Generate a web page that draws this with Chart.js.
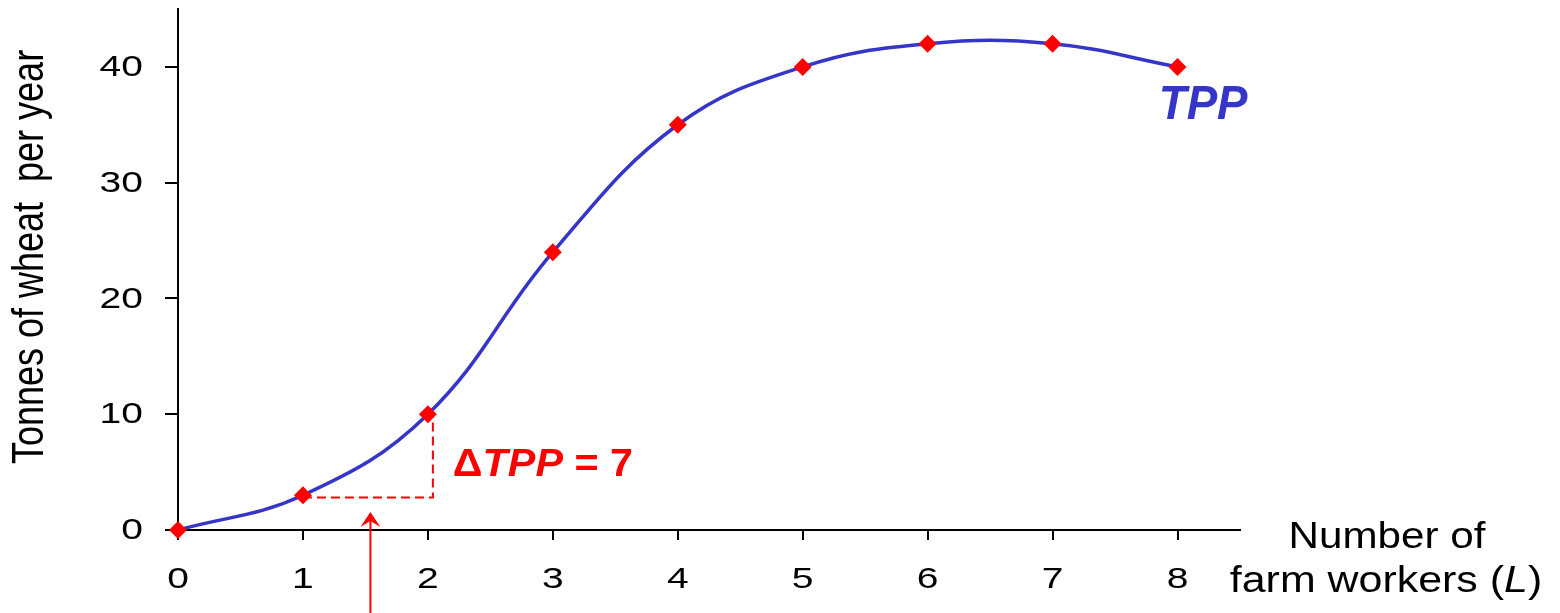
<!DOCTYPE html>
<html lang="en">
<head>
  <meta charset="UTF-8" />
  <title>Total physical product</title>
  <script src="https://cdn.jsdelivr.net/npm/chart.js"></script>
  <style>
    html, body { margin: 0; padding: 0; background: #fff; }
    #wrap { width: 1560px; height: 613px; }
  </style>
</head>
<body>
<div id="wrap"><canvas id="tpp"></canvas></div>

<script>
// data
const workers = [0, 1, 2, 3, 4, 5, 6, 7, 8];
const tonnes = [0, 3, 10, 24, 35, 40, 42, 42, 40];
const yTicks = [0, 10, 20, 30, 40];

// annotation values (in data units)
const deltaBase = 2.8;      // dashed horizontal level
const deltaX = [1, 2.04];   // dashed horizontal run
const deltaTop = 10;
const arrowX = 1.54;
const arrowTipY = 1.55;

const blue = '#3535c8';
const red = '#ff0000';
const font = '"Liberation Sans", Arial, sans-serif';

// text is a bit wider in the original, so draw it with a horizontal stretch
function drawRuns(ctx, runs, cx, cy, size, sx, align) {
  ctx.save();
  ctx.translate(cx, cy);
  ctx.scale(sx, 1);
  ctx.textBaseline = 'middle';
  ctx.textAlign = 'left';
  let total = 0;
  runs.forEach(r => { ctx.font = r[1] + ' ' + size + 'px ' + font; r.w = ctx.measureText(r[0]).width; total += r.w; });
  let x = align === 'center' ? -total / 2 : align === 'right' ? -total : 0;
  runs.forEach(r => {
    ctx.font = r[1] + ' ' + size + 'px ' + font;
    ctx.fillText(r[0], x, 0);
    x += r.w;
  });
  ctx.restore();
}

const notes = {
  id: 'notes',
  afterDraw(chart) {
    const { ctx, scales: { x, y } } = chart;
    ctx.save();

    // tick labels
    ctx.fillStyle = '#000';
    x.ticks.forEach(t => drawRuns(ctx, [[String(t.value), '']], x.getPixelForValue(t.value), 580, 30, 1.3, 'center'));
    y.ticks.forEach(t => drawRuns(ctx, [[String(t.value), '']], 143, y.getPixelForValue(t.value) + 1, 30, 1.3, 'right'));

    // dashed delta lines
    ctx.strokeStyle = red;
    ctx.lineWidth = 2;
    ctx.setLineDash([9, 5]);
    ctx.beginPath();
    ctx.moveTo(x.getPixelForValue(deltaX[0]), y.getPixelForValue(deltaBase));
    ctx.lineTo(x.getPixelForValue(deltaX[1]), y.getPixelForValue(deltaBase));
    ctx.lineTo(x.getPixelForValue(deltaX[1]), y.getPixelForValue(deltaTop));
    ctx.stroke();
    ctx.setLineDash([]);

    // arrow pointing up at the dashed run
    const ax = x.getPixelForValue(arrowX);
    const tip = y.getPixelForValue(arrowTipY);
    ctx.beginPath();
    ctx.moveTo(ax, chart.height + 5);
    ctx.lineTo(ax, tip + 4);
    ctx.stroke();
    ctx.fillStyle = red;
    ctx.beginPath();
    ctx.moveTo(ax, tip);
    ctx.lineTo(ax - 10, tip + 15);
    ctx.lineTo(ax, tip + 9);
    ctx.lineTo(ax + 10, tip + 15);
    ctx.closePath();
    ctx.fill();

    // ΔTPP = 7
    ctx.fillStyle = red;
    drawRuns(ctx, [['Δ', 'bold'], ['TPP', 'italic bold'], [' = 7', 'bold']],
      x.getPixelForValue(2.2), y.getPixelForValue(5.6), 39, 1.06, 'left');

    // TPP curve label
    ctx.fillStyle = blue;
    drawRuns(ctx, [['TPP', 'italic bold']], x.getPixelForValue(7.85), y.getPixelForValue(36.6), 48, 0.95, 'left');

    // axis titles
    ctx.fillStyle = '#000';
    drawRuns(ctx, [['Number of', '']], 1387, 538, 37, 1.14, 'center');
    drawRuns(ctx, [['farm workers (', ''], ['L', 'italic'], [')', '']], 1386, 582, 37, 1.16, 'center');

    ctx.translate(31, 257);
    ctx.rotate(-Math.PI / 2);
    ctx.scale(1, 1.24);
    ctx.textAlign = 'center';
    ctx.textBaseline = 'middle';
    ctx.font = '36px ' + font;
    ctx.fillText('Tonnes of wheat  per year', 0, 0);
    ctx.restore();
  }
};

new Chart(document.getElementById('tpp'), {
  type: 'line',
  data: {
    datasets: [{
      data: workers.map((w, i) => ({ x: w, y: tonnes[i] })),
      borderColor: blue,
      borderWidth: 3.5,
      tension: 0.4,
      pointStyle: 'rectRot',
      pointRadius: 9,
      pointBackgroundColor: red,
      pointBorderColor: red,
      pointBorderWidth: 0,
      clip: false
    }]
  },
  options: {
    responsive: true,
    maintainAspectRatio: false,
    animation: false,
    layout: { padding: { top: 7, right: 320, left: 0, bottom: 0 } },
    plugins: { legend: { display: false }, tooltip: { enabled: false } },
    scales: {
      x: {
        type: 'linear',
        min: 0,
        max: 8.5,
        afterFit(s) { s.height = 83; },
        border: { color: '#000', width: 2 },
        grid: { drawOnChartArea: false, drawTicks: true, tickLength: 10, color: '#000', lineWidth: 2 },
        ticks: { stepSize: 1, includeBounds: false, display: false }
      },
      y: {
        min: 0,
        max: 45,
        afterFit(s) { s.width = 178; },
        afterBuildTicks(s) { s.ticks = yTicks.map(v => ({ value: v })); },
        border: { color: '#000', width: 2 },
        grid: { drawOnChartArea: false, drawTicks: true, tickLength: 13, color: '#000', lineWidth: 2 },
        ticks: { display: false }
      }
    }
  },
  plugins: [notes]
});
</script>
</body>
</html>
